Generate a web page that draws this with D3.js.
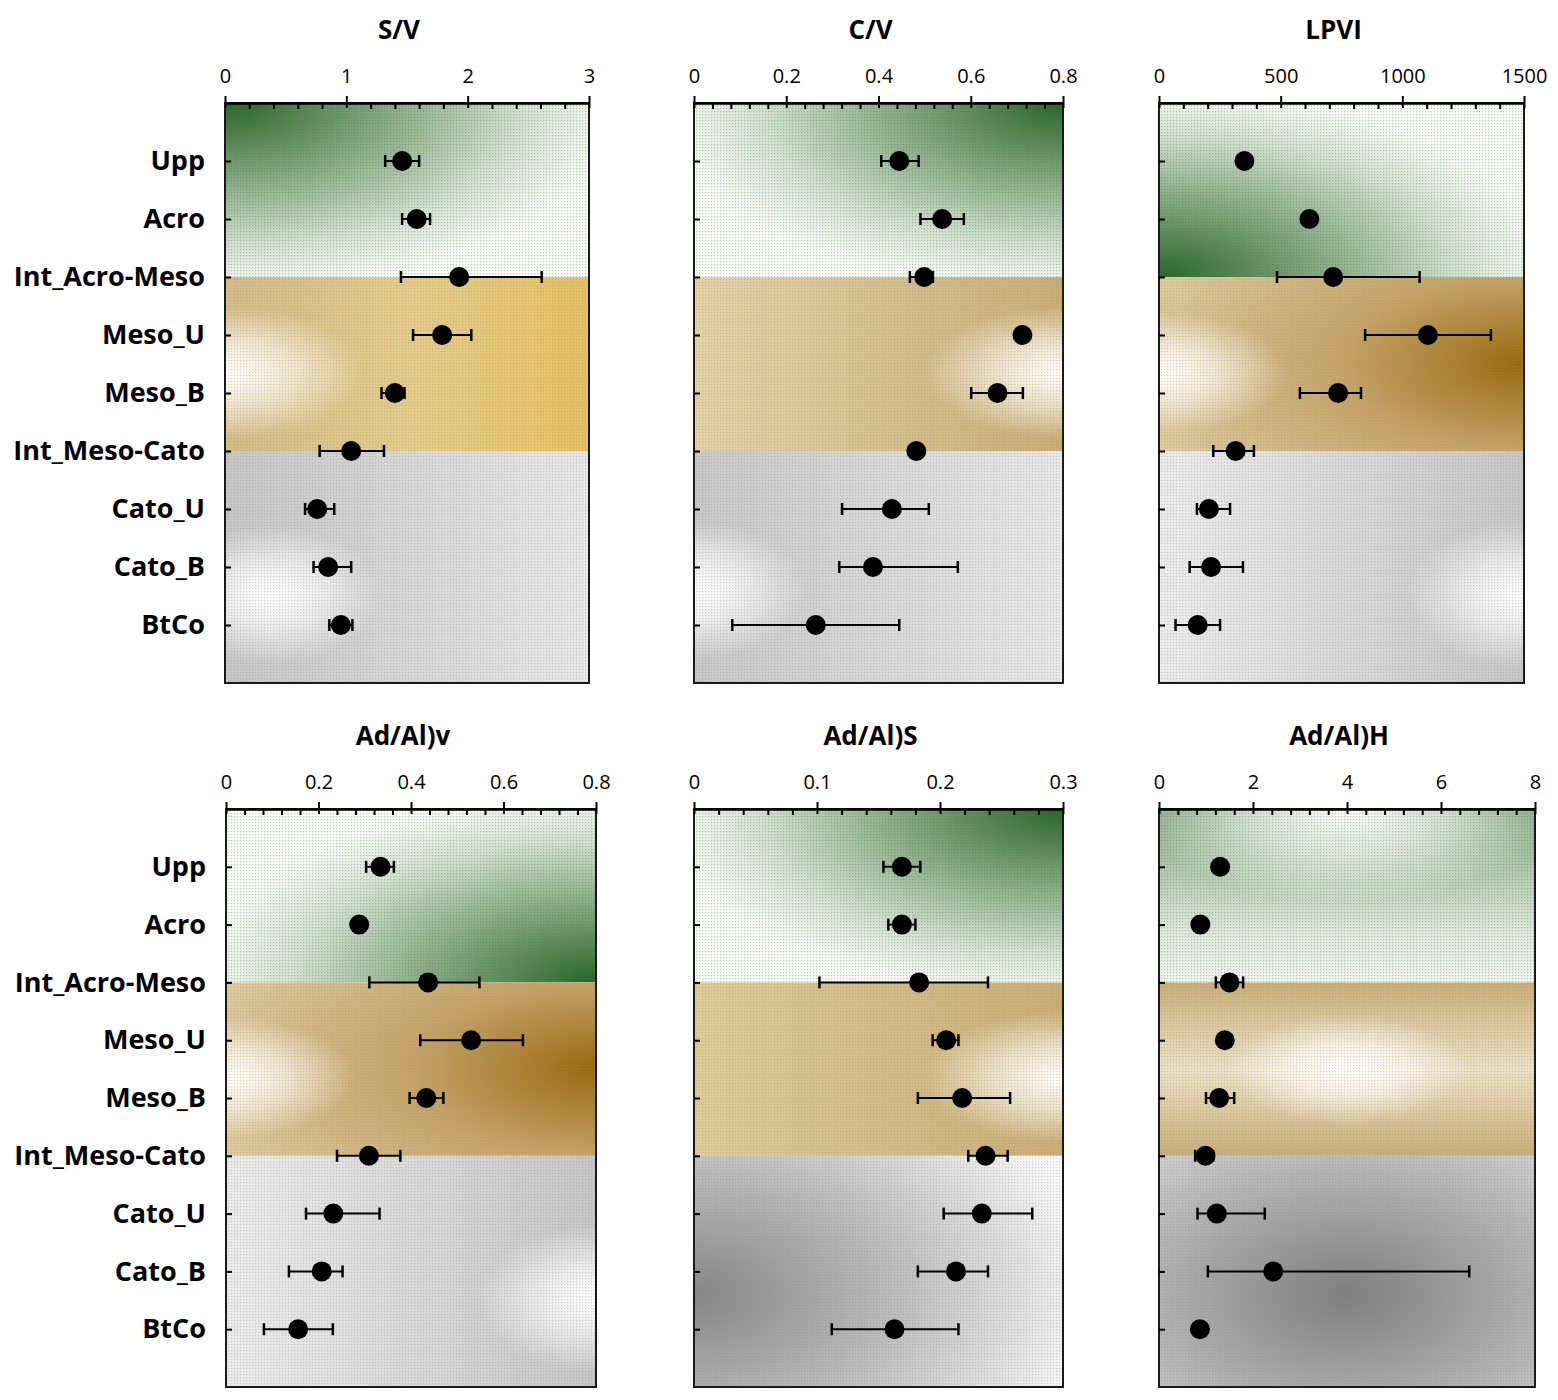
<!DOCTYPE html>
<html>
<head>
<meta charset="utf-8">
<script src="https://cdn.jsdelivr.net/npm/d3@7"></script>
<style>
    body { margin: 0; background: #fff; }
    svg text { font-family: "Open Sans", Lato, sans-serif; fill: #000; }
</style>
</head>
<body>
<svg id="chart"></svg>
<script>
// categories, top to bottom
const categories = ['Upp', 'Acro', 'Int_Acro-Meso', 'Meso_U', 'Meso_B', 'Int_Meso-Cato', 'Cato_U', 'Cato_B', 'BtCo'];

// S/V
const svMean = [1.46, 1.58, 1.93, 1.79, 1.40, 1.04, 0.76, 0.85, 0.955];
const svLow  = [1.32, 1.46, 1.45, 1.55, 1.29, 0.78, 0.66, 0.73, 0.86];
const svHigh = [1.60, 1.69, 2.61, 2.03, 1.48, 1.31, 0.90, 1.04, 1.05];
const svTicks = [0, 1, 2, 3];

// C/V
const cvMean = [0.445, 0.538, 0.499, 0.712, 0.658, 0.482, 0.429, 0.388, 0.264];
const cvLow  = [0.406, 0.491, 0.468, 0.702, 0.601, 0.474, 0.321, 0.315, 0.083];
const cvHigh = [0.487, 0.585, 0.518, 0.722, 0.713, 0.490, 0.509, 0.572, 0.445];
const cvTicks = [0, 0.2, 0.4, 0.6, 0.8];

// LPVI
const lpviMean = [351, 618, 716, 1105, 736, 315, 205, 214, 159];
const lpviLow  = [335, 602, 485, 847, 579, 223, 156, 126, 68];
const lpviHigh = [367, 634, 1071, 1364, 830, 390, 292, 345, 251];
const lpviTicks = [0, 500, 1000, 1500];

// Ad/Al)v
const advMean = [0.334, 0.288, 0.437, 0.530, 0.433, 0.309, 0.232, 0.207, 0.156];
const advLow  = [0.303, 0.280, 0.310, 0.420, 0.397, 0.240, 0.173, 0.136, 0.082];
const advHigh = [0.363, 0.296, 0.548, 0.642, 0.470, 0.377, 0.332, 0.252, 0.231];
const advTicks = [0, 0.2, 0.4, 0.6, 0.8];

// Ad/Al)S
const adsMean = [0.169, 0.169, 0.183, 0.205, 0.218, 0.237, 0.234, 0.213, 0.163];
const adsLow  = [0.154, 0.158, 0.102, 0.194, 0.182, 0.223, 0.203, 0.182, 0.112];
const adsHigh = [0.184, 0.180, 0.239, 0.215, 0.257, 0.255, 0.275, 0.239, 0.215];
const adsTicks = [0, 0.1, 0.2, 0.3];

// Ad/Al)H
const adhMean = [1.30, 0.88, 1.50, 1.40, 1.28, 0.99, 1.23, 2.43, 0.87];
const adhLow  = [1.26, 0.84, 1.21, 1.36, 1.00, 0.77, 0.82, 1.04, 0.83];
const adhHigh = [1.34, 0.92, 1.79, 1.44, 1.60, 1.15, 2.25, 6.60, 0.91];
const adhTicks = [0, 2, 4, 6, 8];

// background looks (gradient layers per band: green, tan, grey)
const white = (cx, cy, r) => ({ type: 'radial', cx, cy, r, stops: [[0, '#fff', 1], [0.5, '#fff', 0.6], [1, '#fff', 0]] });
const greenCorner = (cx, cy) => ({ type: 'radial', cx, cy, r: 1.1, stops: [[0, '#2a6427'], [0.4, '#86a883'], [0.75, '#d6e1d4'], [1, '#fbfcfa']] });

const bgSV = [
    [greenCorner(0, 0)],
    [{ type: 'linear', x1: 0, y1: 0, x2: 1, y2: 0, stops: [[0, '#d2bb8c'], [0.5, '#e2cc8e'], [1, '#e4c264']] }, white(0, 0.55, 0.38)],
    [{ type: 'linear', x1: 0, y1: 0, x2: 1, y2: 0, stops: [[0, '#c6c6c6'], [1, '#e8e8e8']] }, white(0.12, 0.62, 0.3)]
];
const bgCV = [
    [greenCorner(1, 0)],
    [{ type: 'linear', x1: 0, y1: 0, x2: 1, y2: 0, stops: [[0, '#e2d3ad'], [1, '#c8ae78']] }, white(1, 0.55, 0.38)],
    [{ type: 'linear', x1: 0, y1: 0, x2: 1, y2: 0, stops: [[0, '#c8c8c8'], [1, '#e8e8e8']] }, white(0, 0.6, 0.3)]
];
const bgLP = [
    [greenCorner(0, 1)],
    [{ type: 'radial', cx: 1, cy: 0.5, r: 1.1, stops: [[0, '#986810'], [0.45, '#c3a36a'], [1, '#dccaa2']] }, white(0, 0.55, 0.35)],
    [{ type: 'linear', x1: 0, y1: 0, x2: 1, y2: 0, stops: [[0, '#ececec'], [1, '#c6c6c6']] }, white(1, 0.62, 0.32)]
];
const bgADV = [
    [greenCorner(1, 1)],
    [{ type: 'radial', cx: 1, cy: 0.5, r: 1.1, stops: [[0, '#986810'], [0.45, '#c3a36a'], [1, '#dccaa2']] }, white(0, 0.55, 0.35)],
    [{ type: 'linear', x1: 0, y1: 0, x2: 1, y2: 0, stops: [[0, '#ececec'], [1, '#c6c6c6']] }, white(1, 0.62, 0.32)]
];
const bgADS = [
    [greenCorner(1, 0)],
    [{ type: 'linear', x1: 0, y1: 0, x2: 1, y2: 0, stops: [[0, '#dccb9c'], [1, '#c8ae78']] }, white(1, 0.55, 0.38)],
    [{ type: 'radial', cx: 0, cy: 0.6, r: 1.1, stops: [[0, '#868686'], [0.5, '#bdbdbd'], [1, '#f8f8f8']] }]
];
const bgADH = [
    [{ type: 'linear', x1: 0, y1: 0, x2: 0, y2: 1, stops: [[0, '#86a783'], [0.7, '#dfe7dd'], [1, '#f1f4f0']] }, white(0.5, 0, 0.55)],
    [{ type: 'linear', x1: 0, y1: 0, x2: 0, y2: 1, stops: [[0, '#c7ae7b'], [0.5, '#ebe1cb'], [1, '#c7ae7b']] }, white(0.5, 0.5, 0.32)],
    [{ type: 'radial', cx: 0.5, cy: 0.6, r: 0.75, stops: [[0, '#7e7e7e'], [1, '#cbcbcb']] }]
];
const dotColors = ['#3d7a3a', '#b08c3c', '#8a8a8a'];

class DotPanel {

    constructor(config, data) {
        this.config = {
            parent: config.parent,
            id: config.id,
            left: config.left,
            right: config.right,
            top: config.top,
            bottom: config.bottom,
            title: config.title,
            ticks: config.ticks,
            minorStep: config.minorStep,
            showLabels: config.showLabels,
            background: config.background,
            radius: config.radius || 10
        };
        this.data = data;
        this.init();
    }

    init() {
        let self = this;
        let c = self.config;

        self.x = d3.scaleLinear()
            .domain([0, c.ticks[c.ticks.length - 1]])
            .range([c.left, c.right]);

        self.y = d3.scalePoint()
            .domain(categories)
            .range([c.top, c.bottom])
            .padding(1);

        self.chart = c.parent.append('g').attr('class', 'panel-' + c.id);
        self.defs = c.parent.select('defs');
    }

    gradient(id, spec) {
        let g;
        if (spec.type === 'radial') {
            g = this.defs.append('radialGradient').attr('id', id)
                .attr('cx', spec.cx).attr('cy', spec.cy).attr('r', spec.r)
                .attr('fx', spec.cx).attr('fy', spec.cy);
        } else {
            g = this.defs.append('linearGradient').attr('id', id)
                .attr('x1', spec.x1).attr('y1', spec.y1).attr('x2', spec.x2).attr('y2', spec.y2);
        }
        g.selectAll('stop').data(spec.stops).enter().append('stop')
            .attr('offset', d => d[0])
            .attr('stop-color', d => d[1])
            .attr('stop-opacity', d => d[2] == null ? 1 : d[2]);
        return `url(#${id})`;
    }

    render() {
        let self = this;
        let c = self.config;
        let x = self.x, y = self.y;

        // bands: top -> Int_Acro-Meso -> Int_Meso-Cato -> bottom
        let edges = [c.top, y(categories[2]), y(categories[5]), c.bottom];
        c.background.forEach((layers, b) => {
            layers.forEach((spec, k) => {
                self.chart.append('rect')
                    .attr('x', c.left).attr('y', edges[b])
                    .attr('width', c.right - c.left).attr('height', edges[b + 1] - edges[b])
                    .attr('fill', self.gradient(`g-${c.id}-${b}-${k}`, spec));
            });
            self.chart.append('rect')
                .attr('x', c.left).attr('y', edges[b])
                .attr('width', c.right - c.left).attr('height', edges[b + 1] - edges[b])
                .attr('fill', `url(#dots${b})`);
        });

        // frame
        self.chart.append('rect')
            .attr('x', c.left).attr('y', c.top)
            .attr('width', c.right - c.left).attr('height', c.bottom - c.top)
            .attr('fill', 'none').attr('stroke', '#1a1a1a').attr('stroke-width', 2);

        // minor ticks (inside)
        let minor = d3.range(0, x.domain()[1] + c.minorStep / 2, c.minorStep)
            .filter(v => !c.ticks.some(t => Math.abs(t - v) < c.minorStep / 10));
        self.chart.append('g')
            .attr('transform', `translate(0,${c.top})`)
            .call(d3.axisTop(x).tickValues(minor).tickSize(-6).tickSizeOuter(0).tickFormat(''))
            .call(g => g.select('.domain').remove())
            .call(g => g.selectAll('line').attr('stroke', '#000').attr('stroke-width', 2));

        // major ticks + labels
        self.chart.append('g')
            .attr('transform', `translate(0,${c.top})`)
            .call(d3.axisTop(x).tickValues(c.ticks).tickSize(7).tickSizeOuter(0)
                .tickPadding(13).tickFormat(d => String(d)))
            .call(g => g.select('.domain').attr('stroke', '#000').attr('stroke-width', 2.5))
            .call(g => g.selectAll('line').attr('stroke', '#000').attr('stroke-width', 2).attr('y2', -7).attr('y1', 5))
            .call(g => g.selectAll('text').style('font-size', '20px'));

        // category axis
        self.chart.append('g')
            .attr('transform', `translate(${c.left},0)`)
            .call(d3.axisLeft(y).tickSize(-6).tickPadding(20)
                .tickFormat(d => c.showLabels ? d : ''))
            .call(g => g.select('.domain').remove())
            .call(g => g.selectAll('line').attr('stroke', '#000').attr('stroke-width', 2))
            .call(g => g.selectAll('text').style('font-size', '27px').style('font-weight', 700));

        // error bars
        let rows = categories.map((cat, i) => ({
            cat: cat, mean: self.data.mean[i], low: self.data.low[i], high: self.data.high[i]
        }));

        let bars = self.chart.selectAll('.err')
            .data(rows).enter()
            .append('g').attr('class', 'err')
            .attr('stroke', '#000').attr('stroke-width', 2);

        bars.append('line')
            .attr('x1', d => x(d.low)).attr('x2', d => x(d.high))
            .attr('y1', d => y(d.cat)).attr('y2', d => y(d.cat));
        bars.append('line')
            .attr('x1', d => x(d.low)).attr('x2', d => x(d.low))
            .attr('y1', d => y(d.cat) - 6).attr('y2', d => y(d.cat) + 6)
            .attr('stroke-width', 2.5);
        bars.append('line')
            .attr('x1', d => x(d.high)).attr('x2', d => x(d.high))
            .attr('y1', d => y(d.cat) - 6).attr('y2', d => y(d.cat) + 6)
            .attr('stroke-width', 2.5);

        // means
        self.chart.selectAll('.dot')
            .data(rows).enter()
            .append('circle').attr('class', 'dot')
            .attr('cx', d => x(d.mean)).attr('cy', d => y(d.cat))
            .attr('r', c.radius)
            .attr('fill', '#000');

        // title
        self.chart.append('text')
            .attr('x', (c.left + c.right) / 2 - 8)
            .attr('y', c.top - 64)
            .attr('text-anchor', 'middle')
            .style('font-size', '26px').style('font-weight', 700)
            .text(c.title);
    }
}

const svg = d3.select('#chart').attr('width', 1558).attr('height', 1400);
const defs = svg.append('defs');

// fine dotted texture, one per band colour
dotColors.forEach((col, i) => {
    let p = defs.append('pattern').attr('id', 'dots' + i)
        .attr('patternUnits', 'userSpaceOnUse').attr('width', 3).attr('height', 3);
    p.append('rect').attr('width', 1.2).attr('height', 1.2).attr('fill', col).attr('opacity', 0.35);
});

const panelSetup = [
    { id: 'sv', title: 'S/V', left: 225, right: 589, top: 103, bottom: 683, ticks: svTicks, minorStep: 0.2, showLabels: true, background: bgSV,
      data: { mean: svMean, low: svLow, high: svHigh } },
    { id: 'cv', title: 'C/V', left: 694, right: 1063, top: 103, bottom: 683, ticks: cvTicks, minorStep: 0.04, showLabels: false, background: bgCV,
      data: { mean: cvMean, low: cvLow, high: cvHigh } },
    { id: 'lp', title: 'LPVI', left: 1159, right: 1524, top: 103, bottom: 683, ticks: lpviTicks, minorStep: 100, showLabels: false, background: bgLP,
      data: { mean: lpviMean, low: lpviLow, high: lpviHigh } },
    { id: 'adv', title: 'Ad/Al)v', left: 226, right: 596, top: 809, bottom: 1387, ticks: advTicks, minorStep: 0.04, showLabels: true, background: bgADV,
      data: { mean: advMean, low: advLow, high: advHigh } },
    { id: 'ads', title: 'Ad/Al)S', left: 694, right: 1063, top: 809, bottom: 1387, ticks: adsTicks, minorStep: 0.02, showLabels: false, background: bgADS,
      data: { mean: adsMean, low: adsLow, high: adsHigh } },
    { id: 'adh', title: 'Ad/Al)H', left: 1159, right: 1535, top: 809, bottom: 1387, ticks: adhTicks, minorStep: 0.4, showLabels: false, background: bgADH,
      data: { mean: adhMean, low: adhLow, high: adhHigh } }
];

panelSetup.forEach(p => {
    let panel = new DotPanel(Object.assign({ parent: svg }, p), p.data);
    panel.render();
});
</script>
</body>
</html>
